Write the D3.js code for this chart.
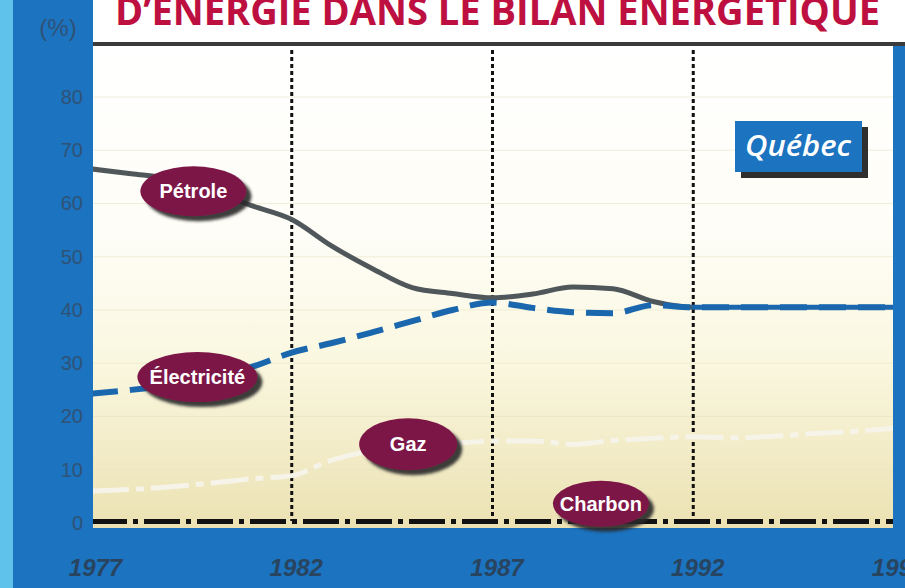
<!DOCTYPE html>
<html>
<head>
<meta charset="utf-8">
<script src="https://cdn.jsdelivr.net/npm/d3@7"></script>
<style>
  body { margin: 0; background: #fff; }
  svg { display: block; }
</style>
</head>
<body>
<div id="graph"></div>
<script>
var width = 905;
var height = 588;

// values (% of the energy balance, Québec)
var years = [1977, 1978, 1979, 1980, 1981, 1982, 1983, 1984, 1985, 1986, 1987,
             1988, 1989, 1990, 1991, 1992, 1993, 1994, 1995, 1996, 1997];
var petrole = [66.5, 65.6, 64.6, 62.5, 59.6, 57.0, 52.0, 47.8, 44.2, 43.1, 42.3,
               43.0, 44.3, 44.0, 41.6, 40.5, 40.5, 40.5, 40.5, 40.5, 40.5];
var electricite = [24.3, 25.0, 26.0, 27.3, 29.3, 32.0, 33.8, 35.8, 37.9, 40.0, 41.4,
                   40.4, 39.6, 39.4, 40.9, 40.5, 40.5, 40.5, 40.5, 40.5, 40.5];
var gaz = [6.0, 6.3, 6.8, 7.5, 8.3, 8.9, 11.8, 13.6, 14.4, 14.9, 15.4,
           15.4, 14.8, 15.5, 15.9, 16.2, 16.0, 16.3, 16.8, 17.2, 17.8];
var charbon = [0.3, 0.3, 0.3, 0.3, 0.3, 0.3, 0.3, 0.3, 0.3, 0.3, 0.3,
               0.3, 0.3, 0.3, 0.3, 0.3, 0.3, 0.3, 0.3, 0.3, 0.3];

var yTicks = [0, 10, 20, 30, 40, 50, 60, 70, 80];
var xTicks = [1977, 1982, 1987, 1992, 1997];
var gridYears = [1982, 1987, 1992];

// bubble labels, anchored in data units
var labels = [
  {text: "Pétrole", year: 1979.55, value: 62.3, rx: 53, ry: 25},
  {text: "Électricité", year: 1979.65, value: 27.4, rx: 60, ry: 25},
  {text: "Gaz", year: 1984.9, value: 14.8, rx: 49, ry: 26},
  {text: "Charbon", year: 1989.7, value: 3.6, rx: 48, ry: 23}
];

var svg = d3.select("#graph").append("svg")
  .attr("width", width)
  .attr("height", height);

var plot = {left: 93, right: 893, top: 46, bottom: 528};

var x = d3.scaleLinear().domain([1977, 1997]).range([91, 894]);
var y = d3.scaleLinear().domain([0, 80]).range([523, 97]);

var defs = svg.append("defs");
var bg = defs.append("linearGradient")
  .attr("id", "bg").attr("x1", 0).attr("y1", 0).attr("x2", 0).attr("y2", 1);
bg.append("stop").attr("offset", "0%").attr("stop-color", "#ffffff");
bg.append("stop").attr("offset", "40%").attr("stop-color", "#fefdf6");
bg.append("stop").attr("offset", "66%").attr("stop-color", "#faf7df");
bg.append("stop").attr("offset", "100%").attr("stop-color", "#ebe1b2");

// petrole is hidden under electricity after 1992, drawn blue there
var pg = defs.append("linearGradient")
  .attr("id", "petroleStroke").attr("gradientUnits", "userSpaceOnUse")
  .attr("x1", x(1991.9)).attr("x2", x(1992)).attr("y1", 0).attr("y2", 0);
pg.append("stop").attr("offset", "0%").attr("stop-color", "#50575b");
pg.append("stop").attr("offset", "100%").attr("stop-color", "#1b67ae");

defs.append("clipPath").attr("id", "clip")
  .append("rect")
  .attr("x", plot.left).attr("y", plot.top)
  .attr("width", plot.right - plot.left).attr("height", plot.bottom - plot.top);

var shadow = defs.append("filter").attr("id", "shadow")
  .attr("x", "-20%").attr("y", "-20%").attr("width", "150%").attr("height", "160%");
shadow.append("feDropShadow")
  .attr("dx", 5).attr("dy", 5).attr("stdDeviation", 1.5)
  .attr("flood-color", "#2a2626").attr("flood-opacity", 0.9);

//backgrounds
svg.append("rect").attr("width", width).attr("height", height).attr("fill", "#ffffff");
svg.append("rect").attr("x", 0).attr("y", 0).attr("width", plot.left).attr("height", height)
  .attr("fill", "#1c73bf");
svg.append("rect").attr("x", 0).attr("y", 0).attr("width", 13).attr("height", height)
  .attr("fill", "#5fc2ea");
svg.append("rect").attr("x", 13).attr("y", plot.bottom).attr("width", width - 13).attr("height", height - plot.bottom)
  .attr("fill", "#1c73bf");
svg.append("rect").attr("x", plot.right).attr("y", plot.top).attr("width", width - plot.right).attr("height", plot.bottom - plot.top)
  .attr("fill", "#1c73bf");
svg.append("rect")
  .attr("x", plot.left).attr("y", plot.top)
  .attr("width", plot.right - plot.left).attr("height", plot.bottom - plot.top)
  .attr("fill", "url(#bg)");

//faint horizontal grid
svg.append("g").selectAll("line")
  .data(yTicks.filter(function(d) { return d > 0; }))
  .join("line")
  .attr("x1", plot.left).attr("x2", plot.right)
  .attr("y1", function(d) { return y(d); })
  .attr("y2", function(d) { return y(d); })
  .attr("stroke", "#e9e4c6")
  .attr("stroke-width", 1)
  .attr("opacity", 0.6);

//title (its top is cut by the page edge, as in the source)
svg.append("text")
  .attr("x", 115).attr("y", 25)
  .attr("textLength", 765).attr("lengthAdjust", "spacingAndGlyphs")
  .attr("font-family", "'Open Sans', 'Liberation Sans', sans-serif")
  .attr("font-weight", 700)
  .attr("font-size", 40)
  .attr("fill", "#bd1040")
  .text("D’ÉNERGIE DANS LE BILAN ÉNERGÉTIQUE");

svg.append("line")
  .attr("x1", plot.left).attr("x2", width)
  .attr("y1", 44).attr("y2", 44)
  .attr("stroke", "#3b3b3b").attr("stroke-width", 4);

svg.append("text")
  .attr("x", 58).attr("y", 36)
  .attr("text-anchor", "middle")
  .attr("font-family", "'Liberation Sans', Arial, sans-serif")
  .attr("font-size", 24)
  .attr("fill", "#2f5276")
  .text("(%)");

//vertical dotted year lines
svg.append("g").selectAll("line")
  .data(gridYears)
  .join("line")
  .attr("x1", function(d) { return x(d); })
  .attr("x2", function(d) { return x(d); })
  .attr("y1", 50).attr("y2", 521)
  .attr("stroke", "#111").attr("stroke-width", 3)
  .attr("stroke-dasharray", "4,3");

//axes
var yAxis = svg.append("g")
  .attr("transform", "translate(83,0)")
  .call(d3.axisLeft(y).tickValues(yTicks).tickSize(0).tickPadding(0));
yAxis.select(".domain").remove();
yAxis.selectAll("text")
  .attr("font-family", "'Liberation Sans', Arial, sans-serif")
  .attr("font-size", 20)
  .attr("fill", "#2f5276");

var xAxis = svg.append("g")
  .attr("transform", "translate(4,559)")
  .call(d3.axisBottom(x).tickValues(xTicks).tickFormat(d3.format("d")).tickSize(0).tickPadding(0));
xAxis.select(".domain").remove();
xAxis.selectAll("text")
  .attr("dy", "0.71em")
  .attr("font-family", "'Liberation Sans', Arial, sans-serif")
  .attr("font-size", 24)
  .attr("font-weight", 700)
  .attr("font-style", "italic")
  .attr("fill", "#28445f");

//series
function pairs(vals) {
  return years.map(function(yr, i) { return [yr, vals[i]]; });
}
var line = d3.line()
  .x(function(d) { return x(d[0]); })
  .y(function(d) { return y(d[1]); })
  .curve(d3.curveMonotoneX);

var lines = svg.append("g").attr("clip-path", "url(#clip)");

lines.append("path")
  .attr("d", line(pairs(gaz)))
  .attr("fill", "none")
  .attr("stroke", "#f6f3e8")
  .attr("stroke-width", 5)
  .attr("stroke-dasharray", "38,7,8,7");

lines.append("path")
  .attr("d", line(pairs(charbon)))
  .attr("fill", "none")
  .attr("stroke", "#111")
  .attr("stroke-width", 5)
  .attr("stroke-dasharray", "36,6,5,6");

lines.append("path")
  .attr("d", line(pairs(petrole)))
  .attr("fill", "none")
  .attr("stroke", "url(#petroleStroke)")
  .attr("stroke-width", 5)
  .attr("stroke-linejoin", "round");

lines.append("path")
  .attr("d", line(pairs(electricite)))
  .attr("fill", "none")
  .attr("stroke", "#1b67ae")
  .attr("stroke-width", 6)
  .attr("stroke-dasharray", "27,12");

//bubble labels
var bubbles = svg.append("g").selectAll("g")
  .data(labels)
  .join("g")
  .attr("transform", function(d) { return "translate(" + x(d.year) + "," + y(d.value) + ")"; });
bubbles.append("ellipse")
  .attr("rx", function(d) { return d.rx; })
  .attr("ry", function(d) { return d.ry; })
  .attr("fill", "#7c1547")
  .attr("filter", "url(#shadow)");
bubbles.append("text")
  .attr("text-anchor", "middle")
  .attr("dy", "0.35em")
  .attr("font-family", "'Liberation Sans', Arial, sans-serif")
  .attr("font-weight", 700)
  .attr("font-size", 20)
  .attr("fill", "#ffffff")
  .text(function(d) { return d.text; });

//Québec tag
var tag = svg.append("g").attr("transform", "translate(735,121)");
tag.append("rect")
  .attr("x", 6).attr("y", 6).attr("width", 127).attr("height", 51)
  .attr("fill", "#2f2f2f");
tag.append("rect")
  .attr("width", 127).attr("height", 51)
  .attr("fill", "#1c73bf");
tag.append("text")
  .attr("x", 63).attr("y", 35)
  .attr("text-anchor", "middle")
  .attr("textLength", 106).attr("lengthAdjust", "spacingAndGlyphs")
  .attr("font-family", "'Open Sans', sans-serif")
  .attr("font-weight", 600)
  .attr("font-style", "italic")
  .attr("font-size", 28)
  .attr("fill", "#ffffff")
  .text("Québec");
</script>
</body>
</html>
